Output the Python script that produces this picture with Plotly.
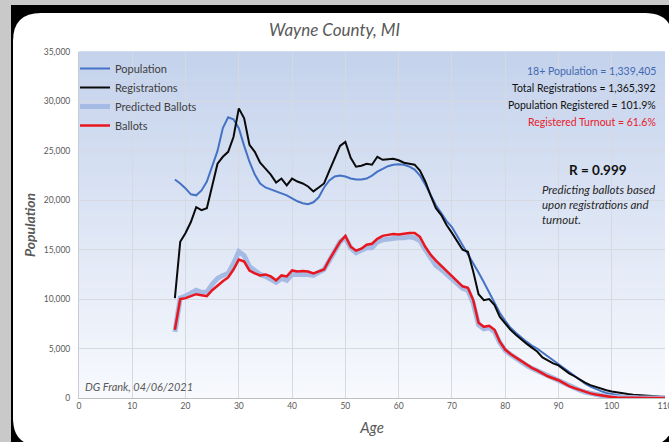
import plotly.graph_objects as go

ages = list(range(18, 111))

population = [22100, 21700, 21200, 20600, 20500, 21000, 21900, 23500, 25000, 27300,
              28400, 28200, 27300, 25500, 23900, 22600, 21700, 21300, 21100, 20900,
              20700, 20500, 20200, 19900, 19700, 19600, 19800, 20300, 21300, 22000,
              22400, 22500, 22400, 22200, 22100, 22100, 22200, 22500, 22900, 23200,
              23450, 23600, 23650, 23600, 23400, 23100, 22500, 21600, 20600, 19500,
              18700, 17900, 17300, 16400, 15500, 14600, 13600, 12700, 11700, 10700,
              9600, 8600, 7800, 7100, 6600, 6100, 5700, 5300, 5000, 4600,
              4200, 3800, 3450, 3000, 2600, 2200, 1800, 1450, 1150, 900,
              700, 500, 380, 300, 240, 200, 160, 130, 100, 80,
              60, 50, 40]

registrations = [10100, 15800, 16700, 17800, 19300, 19000, 19200, 21400, 23700, 24400,
                 24900, 26400, 29300, 28300, 25600, 24900, 23800, 23200, 22600, 21800,
                 22200, 21500, 22200, 21900, 21700, 21400, 20900, 21300, 21700, 23000,
                 24300, 25500, 25900, 24300, 23400, 23500, 23700, 23600, 24400, 24100,
                 24150, 24200, 24050, 23800, 23700, 23600, 23000, 21900, 20500, 19200,
                 18500, 17500, 16700, 15800, 15000, 14800, 12800, 10500, 9900, 10000,
                 9400, 8200, 7500, 6900, 6400, 5900, 5500, 5100, 4700, 4100,
                 3800, 3500, 3300, 2900, 2500, 2200, 1850, 1550, 1300, 1100,
                 900, 780, 650, 550, 480, 400, 340, 290, 240, 200,
                 170, 140, 120]

predicted = [6700, 10100, 10300, 10600, 10900, 10700, 10700, 11500, 12100, 12400,
             12600, 13600, 14800, 14400, 13300, 12900, 12500, 12300, 12000, 11700,
             12100, 11900, 12500, 12500, 12600, 12500, 12400, 12700, 13000, 13900,
             14900, 15800, 16200, 15200, 14700, 14900, 15200, 15200, 15800, 16000,
             16100, 16200, 16200, 16200, 16300, 16200, 15900, 15000, 14100, 13400,
             13000, 12500, 12100, 11600, 11100, 10900, 9600, 7400, 7000, 7100,
             6700, 5600, 4800, 4400, 4000, 3700, 3300, 3000, 2750, 2450,
             2150, 1950, 1750, 1450, 1170, 970, 780, 590, 460, 340,
             240, 150, 100, 60, 40, 30, 20, 15, 10, 8,
             5, 3, 2]

ballots = [6900, 10000, 10100, 10300, 10500, 10400, 10300, 10900, 11400, 11800,
           12200, 13000, 14000, 13800, 12900, 12600, 12400, 12500, 12300, 11900,
           12400, 12300, 12900, 12800, 12850, 12800, 12600, 12800, 13000, 14000,
           14900, 15800, 16400, 15300, 14900, 15100, 15500, 15600, 16100, 16400,
           16500, 16600, 16550, 16650, 16700, 16700, 16300, 15300, 14500, 13900,
           13400, 12900, 12400, 11900, 11300, 11150, 9900, 7600, 7200, 7300,
           6900, 5700, 4900, 4450, 4100, 3800, 3400, 3050, 2800, 2500,
           2200, 2000, 1800, 1500, 1200, 1000, 800, 600, 470, 350,
           250, 150, 100, 60, 40, 30, 20, 15, 10, 8,
           5, 3, 2]

stats_lines = [
    ("18+ Population = 1,339,405", "#4169b0"),
    ("Total Registrations = 1,365,392", "#111111"),
    ("Population Registered = 101.9%", "#111111"),
    ("Registered Turnout = 61.6%", "#e8202a"),
]

W, H = 669, 442
L, R, T, B = 79, 4, 52, 44
PW, PH = W - L - R, H - T - B


def px(x):
    return (x - L) / PW


def py(y):
    return (H - B - y) / PH


FONT = "Lato, 'Open Sans', sans-serif"

fig = go.Figure()
fig.add_trace(go.Scatter(x=ages, y=population, mode="lines", name="Population",
                         line=dict(color="#4472c4", width=2)))
fig.add_trace(go.Scatter(x=ages, y=registrations, mode="lines", name="Registrations",
                         line=dict(color="#0a0a0a", width=2)))
fig.add_trace(go.Scatter(x=ages, y=predicted, mode="lines", name="Predicted Ballots",
                         line=dict(color="#a6bbe4", width=5)))
fig.add_trace(go.Scatter(x=ages, y=ballots, mode="lines", name="Ballots",
                         line=dict(color="#e8161e", width=2.5)))

shapes = []
# dark frame
shapes.append(dict(type="rect", xref="paper", yref="paper", layer="below",
                   x0=px(11), x1=px(W + 10), y0=py(H + 10), y1=py(5),
                   fillcolor="#000000", line=dict(width=0)))
# white rounded card
cx0, cx1, cy0, cy1, rr = 13, 673, 13, 446, 28
rx, ry = rr / PW, rr / PH
X0, X1, Y0, Y1 = px(cx0), px(cx1), py(cy1), py(cy0)
path = (f"M {X0 + rx},{Y1} L {X1 - rx},{Y1} Q {X1},{Y1} {X1},{Y1 - ry} "
        f"L {X1},{Y0 + ry} Q {X1},{Y0} {X1 - rx},{Y0} L {X0 + rx},{Y0} "
        f"Q {X0},{Y0} {X0},{Y0 + ry} L {X0},{Y1 - ry} Q {X0},{Y1} {X0 + rx},{Y1} Z")
shapes.append(dict(type="path", xref="paper", yref="paper", layer="below", path=path,
                   fillcolor="#ffffff", line=dict(width=0)))
# gradient plot background
N = 60
top = (196, 210, 236)
bot = (247, 249, 253)
for i in range(N):
    f = i / (N - 1)
    c = tuple(round(top[k] + (bot[k] - top[k]) * f) for k in range(3))
    shapes.append(dict(type="rect", xref="x domain", yref="y domain", layer="below",
                       x0=0, x1=1, y0=1 - (i + 1) / N, y1=1 - i / N + 0.002,
                       fillcolor=f"rgb{c}", line=dict(width=0)))

annotations = []
for i, (txt, col) in enumerate(stats_lines):
    annotations.append(dict(text=txt, xref="paper", yref="paper", x=px(658), y=py(71 + 17 * i),
                            xanchor="right", yanchor="middle", showarrow=False,
                            font=dict(family=FONT, size=10.5, color=col)))
annotations.append(dict(text="<b>R = 0.999</b>", xref="paper", yref="paper", x=px(598), y=py(170),
                        xanchor="center", yanchor="middle", showarrow=False,
                        font=dict(family=FONT, size=13.5, color="#111111")))
annotations.append(dict(text="<i>Predicting ballots based<br>upon registrations and<br>turnout.</i>",
                        xref="paper", yref="paper", x=px(540), y=py(181),
                        xanchor="left", yanchor="top", align="left", showarrow=False,
                        font=dict(family=FONT, size=11.5, color="#262626")))
annotations.append(dict(text="<i>DG Frank, 04/06/2021</i>", xref="paper", yref="paper",
                        x=px(83), y=py(386), xanchor="left", yanchor="middle", showarrow=False,
                        font=dict(family=FONT, size=11, color="#595959")))

fig.update_layout(
    width=W, height=H,
    margin=dict(l=L, r=R, t=T, b=B, pad=0, autoexpand=False),
    paper_bgcolor="#c9c9c9",
    plot_bgcolor="rgba(0,0,0,0)",
    font=dict(family=FONT, color="#595959"),
    title=dict(text="<i>Wayne County, MI</i>", x=0.5, xref="container", xanchor="center",
               y=1 - 30 / H, yref="container", yanchor="middle",
               font=dict(family=FONT, size=17, color="#595959")),
    shapes=shapes,
    annotations=annotations,
    showlegend=True,
    legend=dict(x=px(75), y=py(54), xanchor="left", yanchor="top",
                bgcolor="rgba(0,0,0,0)", borderwidth=0,
                font=dict(family=FONT, size=11, color="#404040"),
                tracegroupgap=0, itemwidth=30),
    xaxis=dict(range=[0, 110], dtick=10, tick0=0, showgrid=True, gridcolor="#d6d9df",
               gridwidth=1, zeroline=False, showline=True, linecolor="#bfbfbf",
               ticks="", ticklabeloverflow="allow", automargin=False,
               tickfont=dict(family=FONT, size=8.5, color="#595959"),
               title=dict(text="<i>Age</i>", standoff=12,
                          font=dict(family=FONT, size=15, color="#595959"))),
    yaxis=dict(range=[0, 35000], dtick=5000, tick0=0, showgrid=True, gridcolor="#d6d9df",
               gridwidth=1, zeroline=False, showline=True, linecolor="#c8ccd4",
               tickformat=",d", ticks="", ticklabelstandoff=6, automargin=False,
               tickfont=dict(family=FONT, size=8.5, color="#595959"),
               title=dict(text="<b><i>Population</i></b>", standoff=4,
                          font=dict(family=FONT, size=14, color="#595959"))),
)

fig.write_html("out.html", config={"displayModeBar": False, "responsive": False},
               post_script=("document.documentElement.style.overflow='hidden';"
                            "document.body.style.margin='0px';"
                            "document.body.style.overflow='hidden';"))
